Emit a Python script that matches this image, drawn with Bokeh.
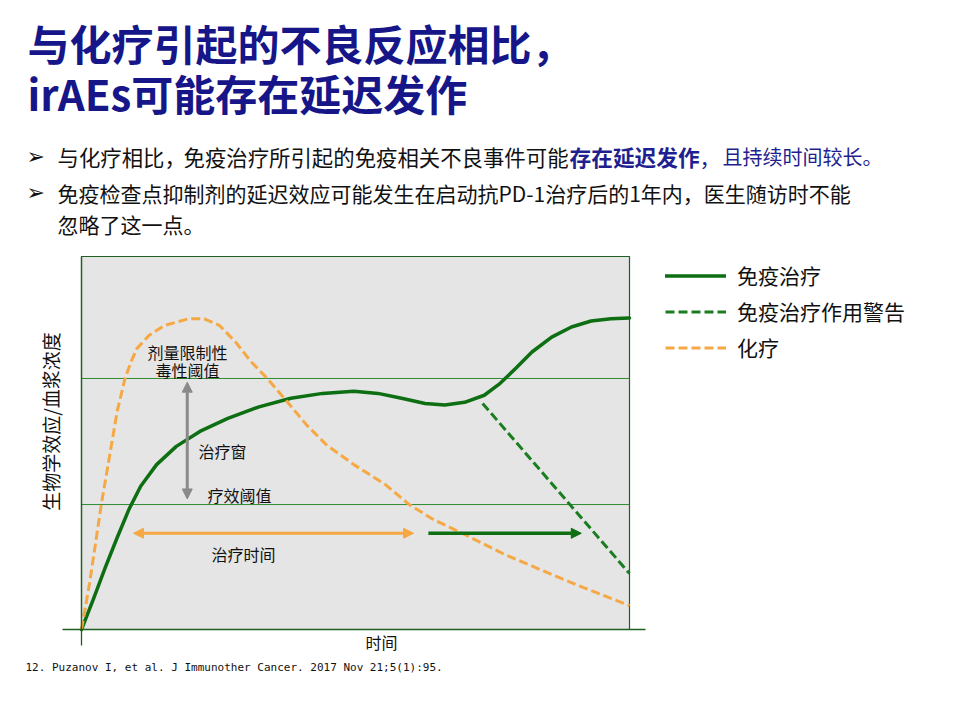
import math
from bokeh.plotting import figure
from bokeh.models import (Range1d, Label, Arrow, NormalHead, Legend, LegendItem,
                          BoxAnnotation, LinearAxis)
from bokeh.embed import file_html
from bokeh.resources import INLINE

# ---------------- data ----------------
time_immuno = [0, 2.17, 4.33, 6.5, 8.66, 10.8, 13.7, 17.3, 21.6, 26.7, 32.4, 38.2, 44.0,
               49.7, 54.1, 58.4, 62.7, 66.3, 69.9, 73.5, 76.4, 79.3, 82.2, 85.8, 89.4,
               93.0, 96.6, 100]
resp_immuno = [0, 8.17, 16.6, 24.6, 32.2, 38.4, 44.2, 49.1, 53.1, 56.6, 59.7, 62.0, 63.3,
               63.9, 63.3, 62.0, 60.6, 60.2, 60.9, 62.8, 66.0, 70.1, 74.4, 78.4, 81.1,
               82.7, 83.3, 83.5]

time_warning = [73.2, 100.0]
resp_warning = [60.6, 15.0]

time_chemo = [0, 1.45, 2.53, 3.61, 5.06, 6.5, 7.94, 9.02, 10.1, 12.3, 15.1, 19.5, 22.4,
              25.2, 28.1, 31.0, 33.9, 37.5, 41.1, 44.7, 49.7, 55.5, 59.8, 64.2,
              69.9, 77.1, 84.3, 91.5, 100]
resp_chemo = [0, 12.2, 22.8, 33.5, 45.95, 58.4, 67.3, 71.7, 75.3, 78.8, 81.5, 83.3, 83.3,
              81.5, 77.1, 71.7, 67.3, 61.1, 54.8, 49.5, 44.2, 38.8, 33.5, 29.5,
              25.5, 20.2, 15.7, 11.3, 6.4]

threshold_levels = [67.3, 33.5]          # toxicity, efficacy
threshold_extent = [0, 100]
window_x = 19.3
window_y = [66.3, 35.0]
chemo_duration_x = [9.5, 60.6]
immuno_duration_x = [63.3, 91.2]
duration_y = 25.8

legend_labels = ["免疫治疗", "免疫治疗作用警告", "化疗"]

# ---------------- layout / styles ----------------
W, H = 952, 712                      # canvas (page pixels)
PL, PR, PT, PB = 81, 629, 256, 629   # chart plot area in page pixels
px_x = (PR - PL) / 100.0
px_y = (PB - PT) / 100.0

CJK = "Noto Sans CJK SC"
GREEN = "#0d6e12"
GREEN_D = "#1a7d1f"
GREEN_THIN = "#2f8a2f"
FRAME = "#1f5f1f"
ORANGE = "#f5a843"
GRAY = "#8a8a8a"
NAVY = "#161689"
BLUE = "#1f1f8f"
TXT = "#111111"

# page coordinates (pixels, y downwards) for the decorations
p = figure(width=W, height=H, x_range=Range1d(0, W), y_range=Range1d(H, 0),
           x_axis_type=None, y_axis_type=None, min_border=0,
           output_backend="svg", toolbar_location=None)
p.outline_line_color = None
p.grid.visible = False
p.background_fill_color = "white"
p.border_fill_color = "white"

# chart coordinates (0..100 both ways) mapped on the chart area
p.extra_x_ranges = {"cx": Range1d(-PL / px_x, (W - PL) / px_x)}
p.extra_y_ranges = {"cy": Range1d(-(H - PB) / px_y, PB / px_y)}
C = dict(x_range_name="cx", y_range_name="cy")

# chart background + frame
p.add_layout(BoxAnnotation(left=0, right=100, bottom=0, top=100, fill_color="#e5e5e5",
                           fill_alpha=1, line_color=FRAME, line_alpha=1, line_width=1.2,
                           level="underlay", **C))

# axes (no ticks) pinned at chart zero
xax = LinearAxis(ticker=[], fixed_location=0, bounds=(-3.5, 103), axis_line_color=FRAME,
                 axis_line_width=1.3, major_tick_line_color=None,
                 minor_tick_line_color=None, **C)
yax = LinearAxis(ticker=[], fixed_location=0, bounds=(-4.3, 100), axis_line_color=FRAME,
                 axis_line_width=1.3, major_tick_line_color=None,
                 minor_tick_line_color=None, **C)
p.add_layout(xax, "below")
p.add_layout(yax, "left")

# threshold lines
for lvl in threshold_levels:
    p.line(threshold_extent, [lvl, lvl], line_color=GREEN_THIN, line_width=1, **C)

# curves
r_immuno = p.line(time_immuno, resp_immuno, line_color=GREEN, line_width=3.5,
                  line_join="round", line_cap="round", **C)
r_warn = p.line(time_warning, resp_warning, line_color=GREEN_D, line_width=3,
                line_dash="9 4", **C)
r_chemo = p.line(time_chemo, resp_chemo, line_color=ORANGE, line_width=3,
                 line_dash="9 4", line_join="round", **C)

# arrows
def head(c):
    return NormalHead(size=10, fill_color=c, line_color=c)

p.add_layout(Arrow(start=head(GRAY), end=head(GRAY), x_start=window_x, y_start=window_y[0],
                   x_end=window_x, y_end=window_y[1], line_color=GRAY, line_width=3, **C))
p.add_layout(Arrow(start=head(ORANGE), end=head(ORANGE), x_start=chemo_duration_x[0],
                   y_start=duration_y, x_end=chemo_duration_x[1], y_end=duration_y,
                   line_color=ORANGE, line_width=3, **C))
p.add_layout(Arrow(end=head(GREEN), x_start=immuno_duration_x[0], y_start=duration_y,
                   x_end=immuno_duration_x[1], y_end=duration_y,
                   line_color=GREEN, line_width=3.5, **C))

# legend
legend = Legend(items=[LegendItem(label=legend_labels[0], renderers=[r_immuno]),
                       LegendItem(label=legend_labels[1], renderers=[r_warn]),
                       LegendItem(label=legend_labels[2], renderers=[r_chemo])],
                location=(665, H - 362), padding=0, margin=0, spacing=6,
                glyph_width=61, glyph_height=25, label_height=25, label_standoff=11,
                label_text_font=CJK, label_text_font_size="21px", label_text_color=TXT,
                border_line_color=None, background_fill_alpha=0)
p.add_layout(legend)

# ---------------- texts (page pixel coordinates) ----------------
def lab(text, X, Y, size, color=TXT, font=CJK, style="normal", align="left", angle=0):
    p.add_layout(Label(x=X, y=Y, text=text, text_font=font, text_font_size=size,
                       text_font_style=style, text_color=color, text_align=align,
                       text_baseline="middle", angle=angle))

# title
lab("与化疗引起的不良反应相比，", 27, 42, "42px", NAVY, style="bold")
lab("irAEs可能存在延迟发作", 27, 92, "42px", NAVY, style="bold")

# bullets
lab("➢", 26, 156, "22px", TXT, font="DejaVu Sans", style="bold")
lab("➢", 26, 192, "22px", TXT, font="DejaVu Sans", style="bold")
lab("与化疗相比，", 57, 156, "21.4px")
lab("免疫治疗所引起的免疫相关不良事件可能", 183, 156, "21.4px")
lab("存在延迟发作", 569, 156, "21.7px", BLUE, style="bold")
lab("，", 699, 156, "21px", BLUE)
lab("且持续时间较长。", 722, 156, "20px", BLUE)
lab("免疫检查点抑制剂的延迟效应可能发生在启动抗PD-1治疗后的1年内，医生随访时不能",
    57, 192, "21px")
lab("忽略了这一点。", 57, 223, "21px")

# chart annotations
lab("剂量限制性", 187, 351, "16px", align="center")
lab("毒性阈值", 187, 369, "16px", align="center")
lab("治疗窗", 198, 450, "16px")
lab("疗效阈值", 207, 494, "16px")
lab("治疗时间", 211, 553, "16px")
lab("时间", 381, 641, "16px", align="center")
lab("生物学效应/血浆浓度", 50, 421, "19px", align="center", angle=math.pi / 2)

# footnote
lab("12. Puzanov I, et al. J Immunother Cancer. 2017 Nov 21;5(1):95.", 25, 667,
    "11px", font="DejaVu Sans Mono")

open("out.html", "w").write(file_html(p, INLINE))
